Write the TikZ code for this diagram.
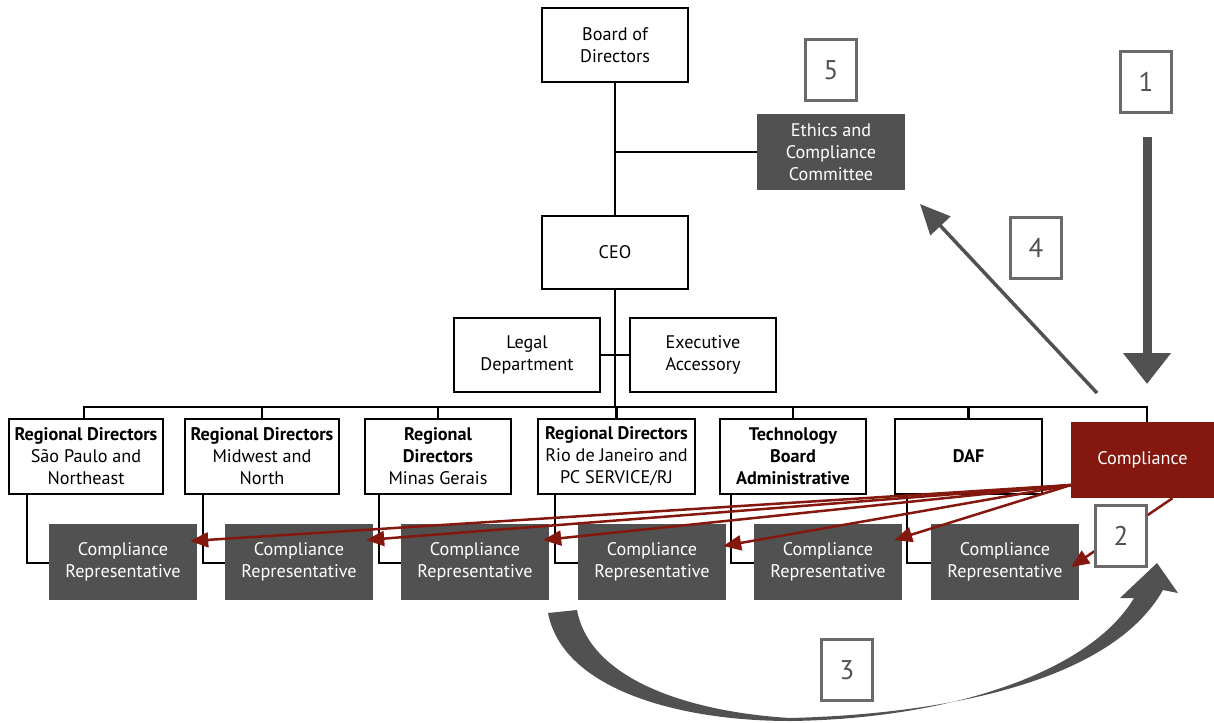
\documentclass[tikz,border=0pt]{standalone}
\usepackage{fontspec}
\setmainfont{PT Sans}
\usetikzlibrary{arrows.meta,calc}
\definecolor{dg}{HTML}{515151}
\definecolor{cred}{HTML}{84180F}
\definecolor{nb}{HTML}{6A6A6A}
\pgfdeclarelayer{bg}
\pgfsetlayers{bg,main}
\begin{document}
\begin{tikzpicture}[x=1pt,y=-1pt,
  font=\fontsize{18.2}{22}\selectfont,
  wbox/.style={draw=black, line width=2.5pt, fill=white, align=center, inner sep=0pt, minimum height=74pt},
  dbox/.style={fill=dg, text=white, align=center, inner sep=0pt, minimum width=148pt, minimum height=76pt},
  numbox/.style={draw=nb, line width=2.2pt, fill=white, text=dg, minimum width=51pt, minimum height=61pt, inner sep=0pt, font=\fontsize{27}{30}\selectfont},
  link/.style={line width=2.2pt, draw=black},
  redarrow/.style={draw=cred, line width=2.5pt, -{Triangle[length=18pt,width=15pt]}},
  bigarrow/.style={draw=dg, line width=9pt, -{Triangle[length=31pt,width=46pt]}},
  midarrow/.style={draw=dg, line width=3.5pt, -{Triangle[length=30pt,width=27pt]}}
]
\useasboundingbox (0,0) rectangle (1214,722);

% top
\node[wbox, minimum width=146pt] (board) at (615,45) {Board of\\Directors};
\node[wbox, minimum width=146pt, minimum height=73pt] (ceo) at (615,252.5) {CEO};
\node[wbox, minimum width=146pt] (legal) at (527,355) {Legal\\Department};
\node[wbox, minimum width=146pt] (exec) at (703,355) {Executive\\Accessory};
\node[dbox] (ethics) at (831,152) {Ethics and\\Compliance\\Committee};

% directors row
\node[wbox, minimum width=154pt, minimum height=75pt] (rd1) at (86,456.5) {\textbf{Regional Directors}\\São Paulo and\\Northeast};
\node[wbox, minimum width=154pt, minimum height=75pt] (rd2) at (262,456.5) {\textbf{Regional Directors}\\Midwest and\\North};
\node[wbox, minimum width=146pt, minimum height=75pt] (rd3) at (438,456.5) {\textbf{Regional}\\\textbf{Directors}\\Minas Gerais};
\node[wbox, minimum width=157pt, minimum height=75pt] (rd4) at (616.5,456.5) {\textbf{Regional Directors}\\Rio de Janeiro and\\PC SERVICE/RJ};
\node[wbox, minimum width=146pt, minimum height=75pt] (tech) at (793,456.5) {\textbf{Technology}\\\textbf{Board}\\\textbf{Administrative}};
\node[wbox, minimum width=147pt, minimum height=75pt] (daf) at (968.5,456.5) {\textbf{DAF}};
\node[fill=cred, text=white, inner sep=0pt, minimum width=143pt, minimum height=76pt] (comp) at (1142.5,460) {Compliance};

% representatives
\foreach \i/\x in {1/123,2/299,3/475,4/652,5/828,6/1005}{
  \node[dbox] (rep\i) at (\x,562) {Compliance\\Representative};
}

% number boxes
\node[numbox] (n5) at (831,70) {5};
\node[numbox] (n1) at (1146,82) {1};
\node[numbox] (n4) at (1036,248) {4};
\node[numbox] (n3) at (847,670) {3};

% structure lines
\begin{pgfonlayer}{bg}
  \draw[link] (board.south) -- (ceo.north);
  \draw[link] (ceo.south) -- (ceo.south |- 0,407);
  \draw[link] (board.south |- ethics.west) -- (ethics.west);
  \draw[link] (legal.east) -- (exec.west);
  \coordinate (busend) at ($(comp.north)+(4.5,0)$);
  \draw[link] (rd1.north -| 84,0) |- (busend |- 0,407) -- (busend);
  \foreach \n in {rd2,rd3,rd4,tech,daf}{
    \draw[link] (\n.north) -- (\n.north |- 0,407);
  }
  \draw[link] ($(rd1.south west)+(19,0)$) |- ($(rep1.west)+(0,1)$);
  \draw[link] ($(rd2.south west)+(19,0)$) |- ($(rep2.west)+(0,1)$);
  \draw[link] ($(rd3.south west)+(15,0)$) |- ($(rep3.west)+(0,1)$);
  \draw[link] ($(rd4.south west)+(18,0)$) |- ($(rep4.west)+(0,1)$);
  \draw[link] ($(tech.south west)+(12,0)$) |- ($(rep5.west)+(0,1)$);
  \draw[link] ($(daf.south west)+(13,0)$) |- ($(rep6.west)+(0,1)$);
\end{pgfonlayer}

% red arrows
\coordinate (cs) at (1071,485);
\draw[redarrow] (cs) -- ($(rep1.east)+(-7,-21)$);
\draw[redarrow] (cs) -- ($(rep2.east)+(-7,-22)$);
\draw[redarrow] (cs) -- ($(rep3.east)+(-6,-22)$);
\draw[redarrow] (cs) -- ($(rep4.east)+(-3,-16)$);
\draw[redarrow] (cs) -- ($(rep5.east)+(-8,-22)$);
\draw[redarrow] ($(comp.south)+(30,0)$) -- ($(rep6.east)+(-8,5)$);
\node[numbox] (n2) at (1121,536) {2};

% process arrows
\coordinate (a1s) at (1147,137);
\coordinate (a1e) at (1147,384);
\draw[bigarrow] (a1s) -- (a1e);
\coordinate (a4s) at (1097,393);
\coordinate (a4e) at (920,204);
\draw[midarrow] (a4s) -- (a4e);

% curved arrow 3
\fill[dg] (548,613) .. controls (563,690) and (680,721) .. (790,721)
  .. controls (950,719) and (1090,672) .. (1134,598)
  -- (1120,598) -- (1157,563) -- (1178,593) -- (1163,590)
  .. controls (1112,680) and (950,714) .. (790,718)
  .. controls (690,712) and (590,680) .. (577,610) -- cycle;
\end{tikzpicture}
\end{document}
